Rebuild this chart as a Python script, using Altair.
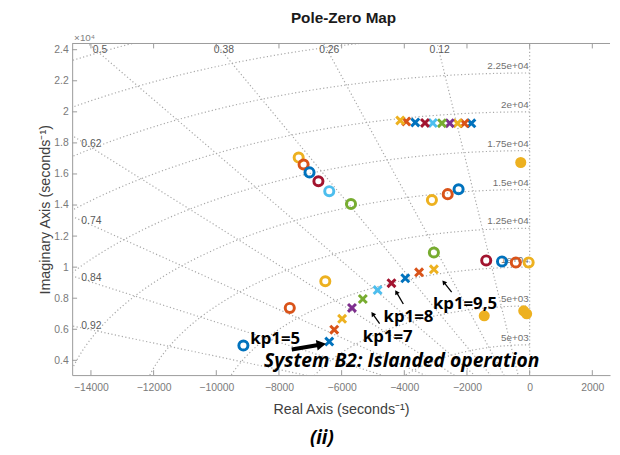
import altair as alt
import numpy as np
import pandas as pd

# ---------------- data ----------------
series_names = ["1", "2", "3", "4", "5", "6", "7", "8", "9", "10"]
series_colors = ["#0072BD", "#D95319", "#EDB120", "#7E2F8E", "#77AC30",
                 "#4DBEEE", "#A2142F", "#0072BD", "#D95319", "#EDB120"]

# poles (x markers)
pole_series = ["1", "2", "3", "4", "5", "6", "7", "8", "9", "10",
               "1", "2", "3", "4", "5", "6", "7", "8", "9", "10"]
pole_re = [-1860, -2080, -2300, -2550, -2800, -3090, -3340, -3650, -3940, -4130,
           -6395, -6237, -5985, -5670, -5324, -4851, -4410, -3969, -3528, -3056]
pole_im = [19260, 19260, 19260, 19270, 19270, 19280, 19285, 19317, 19381, 19445,
           5210, 5974, 6675, 7376, 7949, 8522, 8968, 9286, 9668, 9859]

# zeros (open rings)
zero_series = ["10", "9", "8", "7", "6", "5", "3", "2", "1",
               "10", "9", "8", "5", "7", "1", "2", "3"]
zero_re = [-7371, -7214, -7025, -6741, -6395, -5702, -6521, -7655, -9135,
           -3119, -2615, -2268, -3056, -1386, -882, -441, -32]
zero_im = [17056, 16611, 16101, 15528, 14891, 14063, 9095, 7376, 4955,
           14318, 14700, 15018, 10942, 10433, 10369, 10305, 10305]

# filled yellow dots
filled_re = [-284, -1449, -189, -95]
filled_im = [16738, 6866, 7185, 6993]

# axes
x_domain = [-14600, 2565]
y_domain = [3050, 24400]
x_ticks = [-14000, -12000, -10000, -8000, -6000, -4000, -2000, 0, 2000]
y_ticks = [4000, 6000, 8000, 10000, 12000, 14000, 16000, 18000, 20000, 22000, 24000]

# s-plane grid
zeta_top = [0.5, 0.38, 0.26, 0.12]
zeta_left = [0.62, 0.74, 0.84, 0.92]
wn_values = [5000, 7500, 10000, 12500, 15000, 17500, 20000, 22500, 25000, 27500]
wn_label_values = [22500, 20000, 17500, 15000, 12500, 10000, 7500, 5000]
wn_label_texts = ["2.25e+04", "2e+04", "1.75e+04", "1.5e+04", "1.25e+04",
                  "1e+04", "5e+03", "5e+03"]

# annotations
ann_texts = ["kp1=5", "kp1=7", "kp1=8", "kp1=9,5"]
ann_x = [-8915, -5324, -4662, -3087]
ann_y = [5401, 5529, 6802, 7630]
arrow_x1 = [-7592, -4788, -4032, -2489]
arrow_y1 = [4700, 6357, 7630, 8395]
arrow_x2 = [-6647, -5009, -4253, -2741]
arrow_y2 = [5019, 6993, 8395, 9032]

W, H = 545, 336

# ---------------- build tables ----------------
poles = pd.DataFrame({"s": pole_series, "x": pole_re, "y": pole_im})
zeros = pd.DataFrame({"s": zero_series, "x": zero_re, "y": zero_im})
filled = pd.DataFrame({"x": filled_re, "y": filled_im})

rows = []
gid = 0
for wn in wn_values:
    th = np.linspace(np.pi / 2, np.pi, 240)
    for i, t in enumerate(th):
        rows.append({"g": gid, "o": i, "x": wn * np.cos(t), "y": wn * np.sin(t)})
    gid += 1
for z in [0.0] + zeta_top + zeta_left:
    for i, r in enumerate([0, 60000]):
        rows.append({"g": gid, "o": i, "x": -r * z, "y": r * np.sqrt(1 - z * z)})
    gid += 1
grid = pd.DataFrame(rows)

lab_rows = []
for z in zeta_top:
    yy = 23750
    lab_rows.append({"x": -yy * z / np.sqrt(1 - z * z), "y": yy, "t": f"{z:g}"})
for z in zeta_left:
    xx = -13986
    lab_rows.append({"x": xx, "y": -xx * np.sqrt(1 - z * z) / z, "t": f"{z:g}"})
zlabels = pd.DataFrame(lab_rows)
wlabels = pd.DataFrame({"x": [0] * len(wn_label_values), "y": wn_label_values, "t": wn_label_texts})

sx = W / (x_domain[1] - x_domain[0])
sy = H / (y_domain[1] - y_domain[0])
arr = pd.DataFrame({"x": arrow_x1, "y": arrow_y1, "x2": arrow_x2, "y2": arrow_y2})
arr["a"] = [
    float(np.degrees(np.arctan2((b - a) * sx, (d - c) * sy))) % 360
    for a, b, c, d in zip(arrow_x1, arrow_x2, arrow_y1, arrow_y2)
]
arr["thick"] = [True, False, False, False]
ann = pd.DataFrame({"x": ann_x, "y": ann_y, "t": ann_texts})

# ---------------- scales & axes ----------------
xs = alt.Scale(domain=x_domain, nice=False, zero=False)
ys = alt.Scale(domain=y_domain, nice=False, zero=False)
AX = "#9a9a9a"
ax_common = dict(ticks=False, grid=False, domainColor=AX, labelColor="#7a7a7a",
                 labelFont="Liberation Sans", labelFontSize=10.5,
                 titleFont="Liberation Sans", titleFontSize=14.5, titleFontWeight="normal",
                 titleColor="#404040")
ax_x = alt.Axis(values=x_ticks, title="Real Axis (seconds⁻¹)",
                labelPadding=8, titlePadding=9, format="d", **ax_common)
ax_y = alt.Axis(values=y_ticks, title="Imaginary Axis (seconds⁻¹)",
                labelExpr="format(datum.value/10000, '~g')", labelPadding=4, titlePadding=1,
                **ax_common)
X = lambda f="x": alt.X(f"{f}:Q", scale=xs, axis=ax_x)
Y = lambda f="y": alt.Y(f"{f}:Q", scale=ys, axis=ax_y)
col = alt.Color("s:N", scale=alt.Scale(domain=series_names, range=series_colors), legend=None)

GRAY = "#a8a8a8"
grid_layer = alt.Chart(grid).mark_line(clip=True, color=GRAY, strokeWidth=1.2,
                                       strokeDash=[1.2, 2.4]).encode(
    x=X(), y=Y(), detail="g:N", order="o:Q")

zl = alt.Chart(zlabels).mark_text(font="Liberation Sans", fontSize=10.5, color="#5a5a5a",
                                  baseline="middle", align="center", dy=-4).encode(
    x=X(), y=Y(), text="t:N")
wl = alt.Chart(wlabels).mark_text(font="Liberation Sans", fontSize=10, color="#707070",
                                  baseline="middle", align="right", dx=-1, dy=-7).encode(
    x=X(), y=Y(), text="t:N")

xt = pd.DataFrame({"v": x_ticks})
yt = pd.DataFrame({"v": y_ticks})
tick_b = alt.Chart(xt).mark_rule(color=AX).encode(x=X("v"), y=alt.value(H), y2=alt.value(H - 5))
tick_t = alt.Chart(xt).mark_rule(color=AX).encode(x=X("v"), y=alt.value(0), y2=alt.value(5))
tick_l = alt.Chart(yt).mark_rule(color=AX).encode(y=Y("v"), x=alt.value(0), x2=alt.value(5))
top_line = alt.Chart(xt.head(1)).mark_rule(color=AX).encode(
    x=alt.value(0), x2=alt.value(W), y=alt.value(0))

ring = alt.Chart(zeros).mark_point(shape="circle", filled=False, strokeWidth=3, size=85,
                                   opacity=1).encode(x=X(), y=Y(), color=col)
cross = alt.Chart(poles).mark_point(shape="M-1,-1L1,1M-1,1L1,-1", filled=False,
                                    strokeWidth=3, size=64, opacity=1).encode(
    x=X(), y=Y(), color=col)
dots = alt.Chart(filled).mark_point(shape="circle", filled=True, size=125, opacity=1,
                                    color="#EDB120").encode(x=X(), y=Y())

thin = alt.Chart(arr).transform_filter("!datum.thick")
thick = alt.Chart(arr).transform_filter("datum.thick")
thin_shaft = thin.mark_rule(color="black", strokeWidth=1.3).encode(
    x=X(), y=Y(), x2="x2:Q", y2="y2:Q")
thin_head = thin.mark_point(shape="triangle-up", filled=True, color="black", size=28,
                            opacity=1).encode(x=X("x2"), y=Y("y2"), angle=alt.Angle("a:Q", scale=None))
thick_shaft = thick.mark_rule(color="black", strokeWidth=4).encode(
    x=X(), y=Y(), x2="x2:Q", y2="y2:Q")
thick_head = thick.mark_point(shape="triangle-up", filled=True, color="black", size=120,
                              opacity=1).encode(x=X("x2"), y=Y("y2"), angle=alt.Angle("a:Q", scale=None))

ann_layer = alt.Chart(ann).mark_text(font="Open Sans", fontSize=17, fontWeight="bold",
                                     color="black", align="left", baseline="middle").encode(
    x=X(), y=Y(), text="t:N")
sys_layer = alt.Chart(pd.DataFrame({"x": [-8474], "y": [3936],
                                    "t": ["System B2: Islanded operation"]})).mark_text(
    font="Open Sans", fontSize=19.5, fontWeight="bold", fontStyle="italic", color="black",
    align="left", baseline="middle").encode(x=X(), y=Y(), text="t:N")

title_layer = alt.Chart(pd.DataFrame({"t": ["Pole-Zero Map"]})).mark_text(
    font="Liberation Sans", fontSize=15.5, fontWeight="bold", color="#1a1a1a",
    align="center", baseline="middle").encode(x=alt.value(275), y=alt.value(-26), text="t:N")
exp_layer = alt.Chart(pd.DataFrame({"t": ["×10⁴"]})).mark_text(
    font="Liberation Sans", fontSize=10, color="#808080", align="left",
    baseline="middle").encode(x=alt.value(2), y=alt.value(-6), text="t:N")
ii_layer = alt.Chart(pd.DataFrame({"t": ["(ii)"]})).mark_text(
    font="Open Sans", fontSize=19, fontWeight="bold", fontStyle="italic", color="black",
    align="center", baseline="middle").encode(x=alt.value(253), y=alt.value(400), text="t:N")

chart = alt.layer(
    grid_layer, zl, wl, tick_b, tick_t, tick_l, top_line,
    dots, ring, cross,
    thin_shaft, thin_head, thick_shaft, thick_head,
    ann_layer, sys_layer, title_layer, exp_layer, ii_layer,
).properties(
    width=W, height=H,
    background="white",
    autosize=alt.AutoSizeParams(type="none"),
    padding={"left": 65, "top": 33, "right": 2, "bottom": 78},
).configure_view(stroke=None)

chart.save("out.html", embed_options={"renderer": "svg", "actions": False})
